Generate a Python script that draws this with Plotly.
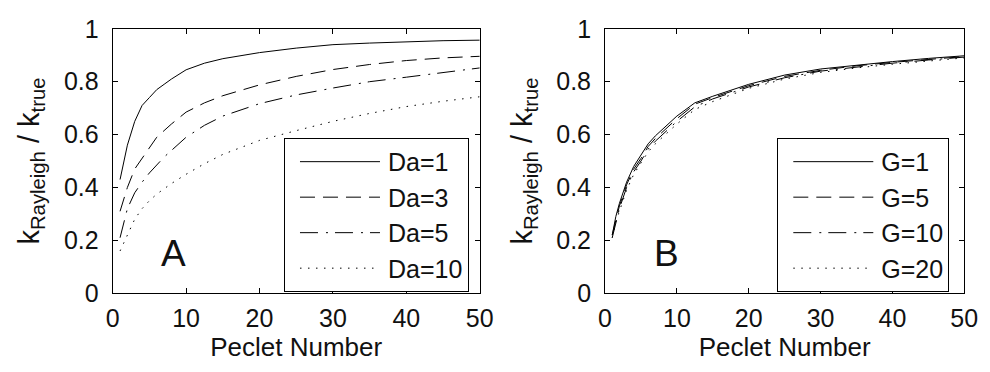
import plotly.graph_objects as go

peclet = [1, 1.5, 2, 3, 4, 5, 6, 7, 8, 10, 12.5, 15, 20, 25, 30, 35, 40, 45, 50]

da_labels = ["Da=1", "Da=3", "Da=5", "Da=10"]
da_1 = [0.43, 0.50, 0.56, 0.65, 0.71, 0.74, 0.77, 0.79, 0.81, 0.845, 0.87, 0.887, 0.91, 0.927, 0.94, 0.946, 0.951, 0.955, 0.957]
da_3 = [0.31, 0.36, 0.40, 0.47, 0.51, 0.55, 0.59, 0.615, 0.64, 0.685, 0.72, 0.747, 0.788, 0.82, 0.846, 0.865, 0.88, 0.89, 0.896]
da_5 = [0.21, 0.27, 0.32, 0.38, 0.42, 0.455, 0.485, 0.515, 0.54, 0.59, 0.635, 0.67, 0.717, 0.75, 0.776, 0.80, 0.817, 0.835, 0.852]
da_10 = [0.16, 0.19, 0.22, 0.28, 0.32, 0.35, 0.375, 0.395, 0.415, 0.45, 0.49, 0.525, 0.578, 0.615, 0.65, 0.68, 0.706, 0.726, 0.743]

g_labels = ["G=1", "G=5", "G=10", "G=20"]
g_1 = [0.22, 0.29, 0.34, 0.42, 0.48, 0.52, 0.565, 0.595, 0.62, 0.67, 0.72, 0.745, 0.79, 0.825, 0.848, 0.863, 0.876, 0.888, 0.898]
g_5 = [0.22, 0.28, 0.33, 0.41, 0.47, 0.51, 0.555, 0.585, 0.61, 0.66, 0.715, 0.74, 0.785, 0.82, 0.843, 0.86, 0.873, 0.885, 0.895]
g_10 = [0.21, 0.27, 0.32, 0.40, 0.46, 0.50, 0.545, 0.575, 0.60, 0.65, 0.705, 0.735, 0.78, 0.815, 0.84, 0.856, 0.87, 0.882, 0.893]
g_20 = [0.21, 0.27, 0.31, 0.39, 0.45, 0.49, 0.535, 0.565, 0.59, 0.64, 0.695, 0.725, 0.775, 0.81, 0.835, 0.852, 0.866, 0.878, 0.89]

x_ticks = [0, 10, 20, 30, 40, 50]
y_ticks = [0, 0.2, 0.4, 0.6, 0.8, 1]
y_tick_text = ["0", "0.2", "0.4", "0.6", "0.8", "1"]

dashes = ["solid", "15px,8px", "18px,8px,2px,7px", "1.5px,6.5px"]
FONT = "Liberation Sans, Arial, sans-serif"
TXT = "#111"

fig = go.Figure()
for i, (lab, ys) in enumerate(zip(da_labels, [da_1, da_3, da_5, da_10])):
    fig.add_trace(go.Scatter(x=peclet, y=ys, mode="lines", name=lab,
                             line=dict(color="black", width=1, dash=dashes[i]),
                             xaxis="x", yaxis="y", legend="legend",
                             legendgroup="a%d" % i))
for i, (lab, ys) in enumerate(zip(g_labels, [g_1, g_5, g_10, g_20])):
    fig.add_trace(go.Scatter(x=peclet, y=ys, mode="lines", name=lab,
                             line=dict(color="black", width=1, dash=dashes[i]),
                             xaxis="x2", yaxis="y2", legend="legend2",
                             legendgroup="b%d" % i))

ytitle = "k<sub>Rayleigh</sub> / k<sub>true</sub>"
common_x = dict(range=[0, 50], tickvals=x_ticks, ticks="inside", ticklen=5,
                tickcolor="black", showline=True, linecolor="black", linewidth=1,
                mirror="ticks", showgrid=False, zeroline=False, ticklabelstandoff=3,
                tickfont=dict(family=FONT, size=25, color=TXT),
                title=dict(text="Peclet Number", font=dict(family=FONT, size=26, color=TXT),
                           standoff=3))
common_y = dict(range=[0, 1], tickvals=y_ticks, ticktext=y_tick_text, ticks="inside",
                ticklen=5, tickcolor="black", showline=True, linecolor="black",
                linewidth=1, mirror="ticks", showgrid=False, zeroline=False,
                ticklabelstandoff=8,
                tickfont=dict(family=FONT, size=25, color=TXT),
                title=dict(text=ytitle, font=dict(family=FONT, size=29, color=TXT),
                           standoff=15))

legend_common = dict(bordercolor="black", borderwidth=1, bgcolor="white",
                     font=dict(family=FONT, size=25, color=TXT),
                     xanchor="left", yanchor="top", tracegroupgap=0, itemwidth=93,
                     xref="paper", yref="paper")

fig.update_layout(
    width=990, height=372,
    margin=dict(l=0, r=0, t=0, b=0),
    paper_bgcolor="white", plot_bgcolor="white",
    xaxis=dict(domain=[108 / 990, 483 / 990], anchor="y", **common_x),
    yaxis=dict(domain=[1 - 302 / 372, 1 - 16 / 372], anchor="x", **common_y),
    xaxis2=dict(domain=[611 / 990, 978 / 990], anchor="y2", **common_x),
    yaxis2=dict(domain=[1 - 302 / 372, 1 - 16 / 372], anchor="x2", **common_y),
    legend=dict(x=283 / 990, y=1 - 134 / 372, **legend_common),
    legend2=dict(x=787 / 990, y=1 - 134 / 372, **legend_common),
    annotations=[
        dict(text="A", x=8.3, y=0.15, xref="x", yref="y", showarrow=False,
             font=dict(family=FONT, size=37, color=TXT)),
        dict(text="B", x=8.6, y=0.15, xref="x2", yref="y2", showarrow=False,
             font=dict(family=FONT, size=37, color=TXT)),
    ],
)

# lengthen the legend sample lines to match the reference's long line samples
post = """
var gd = document.getElementById('{plot_id}');
function stretch() {
  gd.querySelectorAll('.legendlines path').forEach(function (p) {
    p.setAttribute('d', 'M15,0h80');
  });
}
stretch();
gd.on('plotly_afterplot', stretch);
"""
fig.write_html("out.html", post_script=post)
